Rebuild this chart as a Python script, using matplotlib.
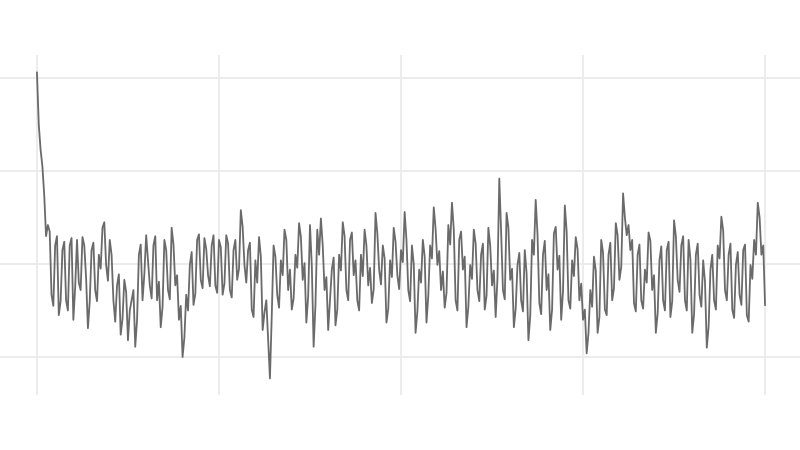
import numpy as np
import matplotlib
matplotlib.use("Agg")
import matplotlib.pyplot as plt

# readings at even steps 0, 2, ..., 400
even_values = [
    30.6, 22.3, 17.4, 14.2, 6.7, 12.0, 4.5, 11.5, 6.1, 12.0,
    4.0, 12.6, 7.2, 12.0, 3.1, 11.5, 7.2, 11.0, 13.9, 9.9,
    12.6, 6.1, 7.7, 2.4, 8.3, 1.8, 6.1, 1.1, 11.0, 6.1,
    13.1, 7.7, 12.0, 6.1, 3.2, 12.6, 7.2, 13.9, 7.7, 4.0,
    0.0, 6.7, 9.9, 5.6, 12.6, 8.3, 12.8, 8.8, 12.0, 7.7,
    12.6, 6.7, 13.1, 7.2, 11.5, 8.3, 15.8, 9.9, 11.5, 5.1,
    10.4, 12.9, 2.9, 6.1, -2.3, 12.0, 6.7, 10.4, 13.7, 7.2,
    5.1, 11.0, 14.4, 8.3, 3.7, 14.2, 1.1, 13.7, 14.9, 7.2,
    2.9, 9.4, 3.4, 11.0, 14.5, 7.2, 12.6, 8.8, 6.1, 11.0,
    13.7, 7.7, 5.8, 15.5, 9.4, 12.0, 3.7, 10.4, 13.9, 8.8,
    11.5, 15.6, 7.2, 12.0, 2.6, 9.4, 12.6, 3.7, 12.0, 16.1,
    9.9, 7.2, 5.3, 14.2, 16.6, 6.1, 12.6, 9.4, 3.2, 9.9,
    13.7, 7.2, 11.0, 5.1, 13.9, 7.7, 4.3, 19.2, 7.2, 15.5,
    8.3, 3.2, 9.9, 6.1, 11.5, 1.8, 12.6, 16.9, 5.8, 11.0,
    7.2, 2.9, 13.3, 9.4, 4.0, 16.3, 6.1, 10.4, 12.9, 6.1,
    4.0, 0.4, 7.2, 10.8, 2.6, 12.6, 5.1, 11.0, 6.1, 14.4,
    8.3, 17.6, 13.1, 11.5, 5.8, 11.0, 6.1, 9.4, 13.4, 7.2,
    2.6, 10.4, 6.1, 11.5, 4.3, 14.7, 8.3, 12.0, 6.1, 12.6,
    2.6, 11.0, 6.7, 10.4, 1.0, 9.4, 6.1, 12.0, 15.1, 7.2,
    11.0, 5.1, 9.9, 6.7, 11.5, 4.5, 9.9, 12.6, 16.6, 11.0,
    5.6,
]
# readings at odd steps 1, 3, ..., 399
odd_values = [
    25.0, 20.5, 13.0, 13.5, 5.5, 13.0, 6.0, 12.4, 5.0, 12.8,
    7.5, 8.0, 12.9, 8.5, 6.0, 12.3, 6.0, 9.5, 14.5, 8.2,
    11.0, 3.8, 8.9, 4.1, 7.0, 5.0, 7.2, 4.0, 12.1, 8.9,
    10.4, 6.3, 13.0, 8.1, 5.4, 11.5, 6.2, 12.1, 8.8, 5.5,
    2.1, 5.0, 11.3, 6.8, 13.2, 7.4, 11.6, 7.6, 13.1, 6.9,
    11.8, 7.9, 12.2, 6.4, 12.6, 9.5, 14.0, 8.0, 12.3, 4.3,
    8.0, 10.8, 4.8, 2.0, 4.5, 10.8, 5.3, 8.8, 12.6, 9.4,
    6.3, 9.6, 12.9, 10.1, 6.5, 9.8, 5.6, 11.0, 12.0, 8.6,
    6.1, 10.7, 5.1, 9.3, 13.0, 6.1, 13.4, 10.4, 5.0, 8.7,
    12.0, 9.6, 7.3, 13.3, 7.8, 10.6, 5.2, 8.6, 12.4, 7.3,
    10.2, 12.6, 6.0, 10.0, 4.9, 8.0, 10.8, 6.6, 10.6, 13.8,
    11.4, 9.2, 6.9, 12.1, 13.7, 5.0, 13.5, 10.8, 5.4, 8.4,
    12.2, 6.0, 12.2, 6.6, 12.0, 9.3, 8.5, 13.5, 6.2, 13.9,
    9.5, 5.2, 11.2, 4.9, 9.0, 4.4, 11.0, 13.2, 4.6, 12.5,
    8.9, 5.1, 14.0, 10.9, 7.1, 13.5, 5.2, 8.7, 11.6, 7.9,
    5.1, 2.6, 5.4, 9.3, 4.3, 11.2, 4.5, 12.3, 7.4, 13.1,
    9.7, 15.0, 14.2, 12.6, 4.9, 12.1, 5.2, 8.0, 12.5, 8.8,
    4.7, 11.9, 5.0, 12.4, 6.0, 13.0, 7.0, 13.0, 5.0, 10.5,
    4.6, 12.2, 5.4, 8.1, 3.3, 11.0, 5.1, 10.6, 13.6, 6.1,
    12.2, 4.2, 11.3, 5.6, 12.1, 3.8, 8.4, 11.0, 15.0, 12.0,
]
xticks = [0, 100, 200, 300, 400]
yticks = [0, 10, 20, 30]

steps = np.arange(0, 401)
values = np.empty(401)
values[0::2] = even_values
values[1::2] = odd_values

fig = plt.figure(figsize=(8, 4.5), dpi=100)
ax = fig.add_axes([0, 0.122, 1, 0.756])

ax.plot(steps, values, color="#6a6a6a", lw=1.3)

ax.set_xlim(-20.3, 419.2)
ax.set_ylim(-4.1, 32.5)
ax.set_xticks(xticks)
ax.set_yticks(yticks)
ax.tick_params(length=0, labelbottom=False, labelleft=False)
ax.grid(True, color="#ebebeb", lw=1.3)
ax.set_axisbelow(True)
for s in ax.spines.values():
    s.set_visible(False)

fig.savefig("out.png", dpi=100)
